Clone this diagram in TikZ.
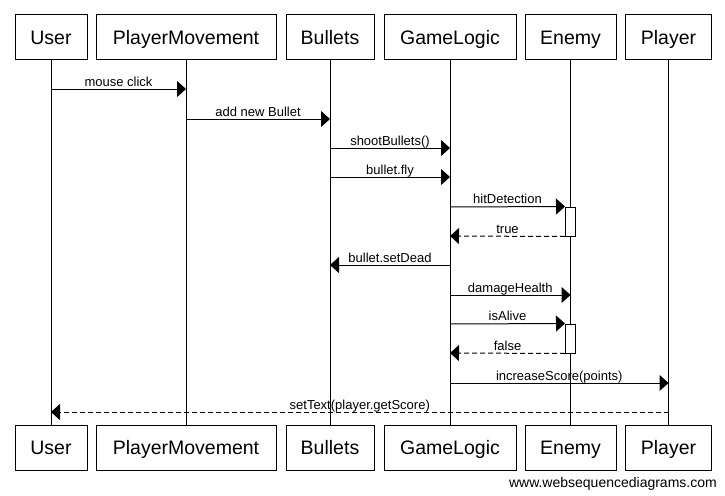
\documentclass[tikz,border=0pt]{standalone}
\usepackage{fontspec}
\setmainfont{Liberation Sans}
\usetikzlibrary{arrows.meta}
\begin{document}
\begin{tikzpicture}[x=1pt,y=-1pt,
  actor/.style={draw, line width=1pt, minimum height=45pt, inner sep=0pt, text height=14pt, text depth=0pt, font=\fontsize{19.5}{21}\selectfont},
  life/.style={line width=1pt},
  msg/.style={line width=1pt, -{Triangle[length=9pt,width=16pt]}},
  ret/.style={msg, dash pattern=on 5pt off 3pt},
  lbl/.style={anchor=base, yshift=3pt, inner sep=0pt, font=\fontsize{13}{14}\selectfont},
  act/.style={draw, fill=white, line width=1pt, minimum width=10pt, inner sep=0pt}]
\useasboundingbox (0,0) rectangle (725,495);
% top actors
\node[actor, minimum width=72pt]  (u)  at (51,37.5)  {User};
\node[actor, minimum width=180pt] (pm) at (186,37.5) {PlayerMovement};
\node[actor, minimum width=88pt]  (b)  at (330,37.5) {Bullets};
\node[actor, minimum width=132pt] (gl) at (450,37.5) {GameLogic};
\node[actor, minimum width=91pt]  (e)  at (570.5,37.5) {Enemy};
\node[actor, minimum width=86pt]  (p)  at (668.5,37.5) {Player};
% bottom actors
\node[actor, minimum width=72pt]  (u2)  at (51,447.5)  {User};
\node[actor, minimum width=180pt] (pm2) at (186,447.5) {PlayerMovement};
\node[actor, minimum width=88pt]  (b2)  at (330,447.5) {Bullets};
\node[actor, minimum width=132pt] (gl2) at (450,447.5) {GameLogic};
\node[actor, minimum width=91pt]  (e2)  at (570.5,447.5) {Enemy};
\node[actor, minimum width=86pt]  (p2)  at (668.5,447.5) {Player};
% lifelines
\draw[life] (u.south) -- (u2.north);
\draw[life] (pm.south) -- (pm2.north);
\draw[life] (b.south) -- (b2.north);
\draw[life] (gl.south) -- (gl2.north);
\draw[life] (e.south) -- (e2.north);
\draw[life] (p.south) -- (p2.north);
% activations
\node[act, minimum height=29pt] (a1) at (e |- 0,221.5) {};
\node[act, minimum height=29pt] (a2) at (e |- 0,338.5) {};
% messages
\draw[msg] (u |- 0,89) -- node[lbl]{mouse click} (pm |- 0,89);
\draw[msg] (pm |- 0,119) -- node[lbl]{add new Bullet} (b |- 0,119);
\draw[msg] (b |- 0,148) -- node[lbl]{shootBullets()} (gl |- 0,148);
\draw[msg] (b |- 0,177) -- node[lbl]{bullet.fly} (gl |- 0,177);
\draw[msg] (gl |- 0,207) -- node[lbl]{hitDetection} (a1.north west);
\draw[ret] (a1.south west) -- node[lbl]{true} (gl |- 0,236);
\draw[msg] (gl |- 0,265) -- node[lbl]{bullet.setDead} (b |- 0,265);
\draw[msg] (gl |- 0,295) -- node[lbl]{damageHealth} (e |- 0,295);
\draw[msg] (gl |- 0,324) -- node[lbl]{isAlive} (a2.north west);
\draw[ret] (a2.south west) -- node[lbl]{false} (gl |- 0,353);
\draw[msg] (gl |- 0,383) -- node[lbl]{increaseScore(points)} (p |- 0,383);
\draw[ret] (p |- 0,412) -- node[lbl]{setText(player.getScore)} (u |- 0,412);
% watermark
\node[anchor=base east, inner sep=0pt, font=\fontsize{14}{15}\selectfont] (wm) at (717,487) {www.websequencediagrams.com};
\end{tikzpicture}
\end{document}
